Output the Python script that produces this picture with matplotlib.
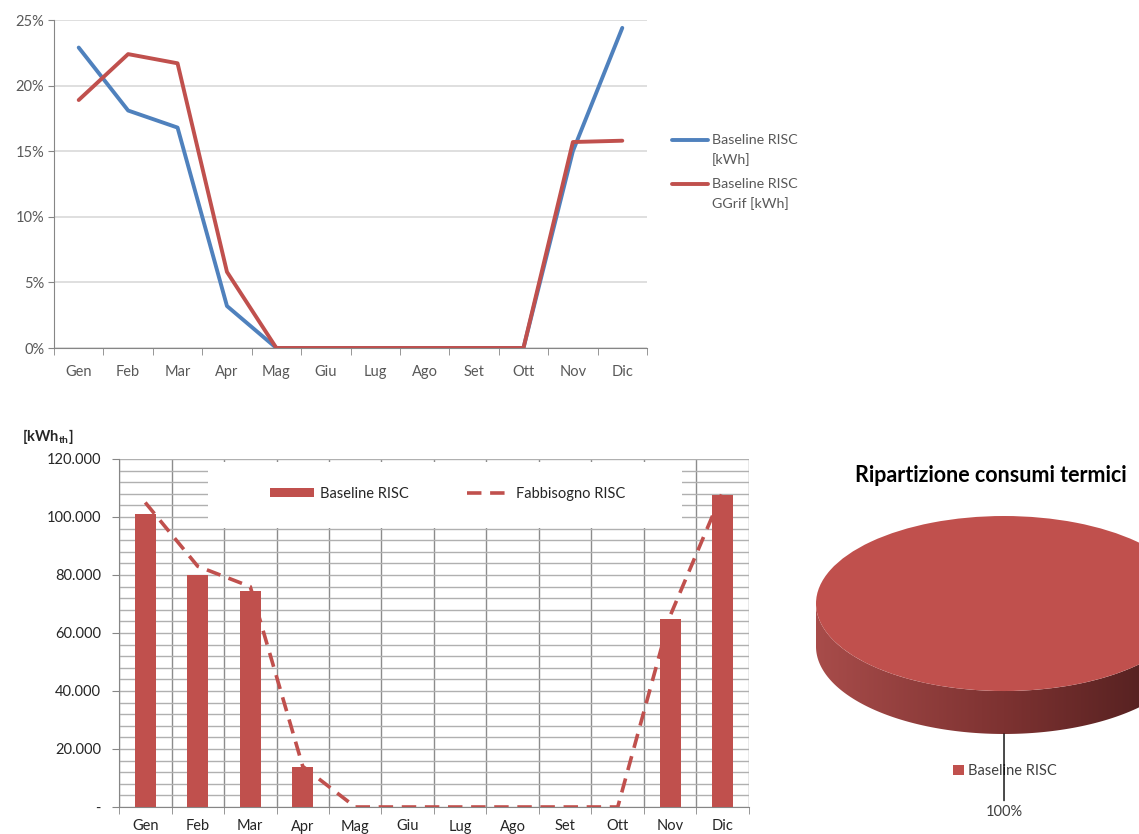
import numpy as np
import matplotlib
matplotlib.use("Agg")
import matplotlib.pyplot as plt
from matplotlib.lines import Line2D
from matplotlib.patches import Rectangle, Polygon
from matplotlib.colors import LinearSegmentedColormap
from matplotlib.ticker import FixedLocator, FuncFormatter, MultipleLocator

plt.rcParams['font.family'] = ['Lato', 'DejaVu Sans']
plt.rcParams['mathtext.fontset'] = 'custom'
plt.rcParams['mathtext.rm'] = 'Lato'
plt.rcParams['mathtext.bf'] = 'Lato:bold'

# ---- data ----
months = ['Gen', 'Feb', 'Mar', 'Apr', 'Mag', 'Giu', 'Lug', 'Ago', 'Set', 'Ott', 'Nov', 'Dic']
share_baseline = [22.9, 18.1, 16.8, 3.2, 0, 0, 0, 0, 0, 0, 15.0, 24.4]      # % per month
share_ggrif = [18.9, 22.4, 21.7, 5.8, 0, 0, 0, 0, 0, 0, 15.7, 15.8]         # % per month
baseline_kwh = [101000, 80000, 74500, 13800, 0, 0, 0, 0, 0, 0, 64800, 107600]
fabbisogno_kwh = [105000, 83000, 76000, 14000, 0, 0, 0, 0, 0, 0, 66000, 108700]
pie_labels = ['Baseline RISC']
pie_values = [sum(baseline_kwh)]

BLUE = '#4f81bd'
RED = '#c0504d'

W, H = 1139, 834
fig = plt.figure(figsize=(W / 100, H / 100), dpi=100)


def box(l, t, r, b):
    return [l / W, 1 - b / H, (r - l) / W, (b - t) / H]


x = np.arange(len(months))
bounds = np.arange(-0.5, len(months) + 0.5, 1)

# ---- top: monthly share lines ----
ax1 = fig.add_axes(box(54, 20, 647, 348))
ax1.plot(x, share_baseline, color=BLUE, lw=2.8, solid_capstyle='round', zorder=3)
ax1.plot(x, share_ggrif, color=RED, lw=2.8, solid_capstyle='round', zorder=4)
ax1.set_xlim(-0.5, len(months) - 0.5)
ax1.set_ylim(0, 25)
ax1.yaxis.set_major_locator(MultipleLocator(5))
ax1.yaxis.set_major_formatter(FuncFormatter(lambda v, p: f'{v:.0f}%'))
ax1.set_xticks(x)
ax1.set_xticklabels(months)
ax1.xaxis.set_minor_locator(FixedLocator(bounds))
ax1.tick_params(axis='x', which='major', length=0, pad=12, labelsize=10.5, labelcolor='#595959')
ax1.tick_params(axis='x', which='minor', length=5, color='#868686', direction='out')
ax1.tick_params(axis='y', length=4, color='#868686', pad=3, labelsize=10.5, labelcolor='#595959')
ax1.grid(axis='y', color='#d9d9d9', lw=1.2)
ax1.set_axisbelow(True)
for s in ('top', 'right'):
    ax1.spines[s].set_visible(False)
for s in ('left', 'bottom'):
    ax1.spines[s].set_color('#868686')

# legend of the share chart
legend_rows = [(BLUE, 140, ['Baseline RISC', '[kWh]']),
               (RED, 184, ['Baseline RISC', 'GGrif [kWh]'])]
for col, ypx, lines in legend_rows:
    fig.add_artist(Line2D([672 / W, 708 / W], [1 - ypx / H] * 2, color=col, lw=2.8,
                          solid_capstyle='round'))
    for i, txt in enumerate(lines):
        fig.text(712 / W, 1 - (ypx + 19.5 * i) / H, txt, va='center', ha='left',
                 fontsize=10.3, color='#595959')

# ---- bottom: monthly energy bars ----
ax2 = fig.add_axes(box(119, 459, 749, 807))
bar_c = ax2.bar(x, baseline_kwh, width=0.4, color=RED, zorder=3, label='Baseline RISC')
dash_l, = ax2.plot(x, fabbisogno_kwh, color=RED, lw=2.6, dashes=(4, 2.4), zorder=4,
                   label='Fabbisogno RISC')
ax2.set_xlim(-0.5, len(months) - 0.5)
ax2.set_ylim(0, 120000)
ax2.yaxis.set_major_locator(MultipleLocator(20000))
ax2.yaxis.set_minor_locator(MultipleLocator(4000))
ax2.yaxis.set_major_formatter(
    FuncFormatter(lambda v, p: '-' if v == 0 else f'{v:,.0f}'.replace(',', '.')))
ax2.set_xticks(x)
ax2.set_xticklabels(months)
ax2.xaxis.set_minor_locator(FixedLocator(bounds))
ax2.tick_params(axis='x', which='major', length=0, pad=9, labelsize=10.5, labelcolor='#262626')
ax2.tick_params(axis='x', which='minor', length=5, color='#868686')
ax2.tick_params(axis='y', which='major', length=5, color='#868686', pad=8, labelsize=10.5,
                labelcolor='#262626')
ax2.tick_params(axis='y', which='minor', length=0)
ax2.grid(axis='y', which='both', color='#b0b0b0', lw=1.0)
ax2.grid(axis='x', which='minor', color='#8c8c8c', lw=1.0)
ax2.set_axisbelow(True)
for s in ('top', 'right'):
    ax2.spines[s].set_visible(False)
for s in ('left', 'bottom'):
    ax2.spines[s].set_color('#868686')
ax2.add_patch(Rectangle(((208 - 119) / 630, (807 - 528) / 348), (682 - 208) / 630,
                        (528 - 462) / 348, transform=ax2.transAxes, facecolor='white',
                        edgecolor='none', zorder=2))
ax2.legend([bar_c, dash_l], ['Baseline RISC', 'Fabbisogno RISC'], loc='center',
           bbox_to_anchor=((448 - 119) / 630, (807 - 494) / 348), ncol=2,
           frameon=False, fontsize=10.5, handlelength=3.0, handleheight=0.55,
           handletextpad=0.4, columnspacing=4.0, labelcolor='#262626')
fig.text(22 / W, 1 - 437 / H, r'$\mathbf{[kWh_{th}]}$', fontsize=10.5, va='center',
         ha='left', color='#262626')

# ---- right: 3D-style pie ----
ax3 = fig.add_axes(box(780, 440, 1139, 834))
wedges, _ = ax3.pie(pie_values, colors=[RED], startangle=90, radius=1,
                    wedgeprops=dict(linewidth=0))
for w in wedges:
    w.set_zorder(3)
depth = 0.491
t = np.linspace(np.pi, 2 * np.pi, 300)
side = np.concatenate([np.c_[np.cos(t), np.sin(t)],
                       np.c_[np.cos(t[::-1]), np.sin(t[::-1]) - depth]])
side_patch = Polygon(side, closed=True, facecolor='none', edgecolor='none',
                     transform=ax3.transData)
ax3.add_patch(side_patch)
side_cmap = LinearSegmentedColormap.from_list('side', ['#a84c4a', '#7d3231', '#4a1c1c'])
img = ax3.imshow(np.linspace(0, 1, 256).reshape(1, -1), cmap=side_cmap, aspect='auto',
                 extent=(-1, 1, -1 - depth, 0.0), zorder=2, interpolation='bilinear')
img.set_clip_path(side_patch)
ax3.set_aspect('auto')
ax3.set_xlim(-1.1915, 0.718)
ax3.set_ylim(-2.634, 1.8686)
ax3.axis('off')

pct = 100 * pie_values[0] / sum(pie_values)
ax3.legend(wedges, pie_labels, loc='center', bbox_to_anchor=((1005 - 780) / 359, (834 - 771) / 394),
           frameon=False, fontsize=10.5, handlelength=0.7, handleheight=0.7,
           handletextpad=0.3, labelcolor='#404040')
ann = ax3.annotate(f'{pct:.0f}%', xy=(0, -1 - depth), xytext=(0, -2.38), ha='center',
                   va='center', fontsize=10.5, color='#404040', zorder=8,
                   arrowprops=dict(arrowstyle='-', color='black', lw=1.0,
                                   shrinkA=1, shrinkB=0))
fig.text(855 / W, 1 - 475 / H, 'Ripartizione consumi termici', fontweight='bold',
         fontsize=15.5, va='center', ha='left', color='black')

fig.savefig('out.png', dpi=100)
